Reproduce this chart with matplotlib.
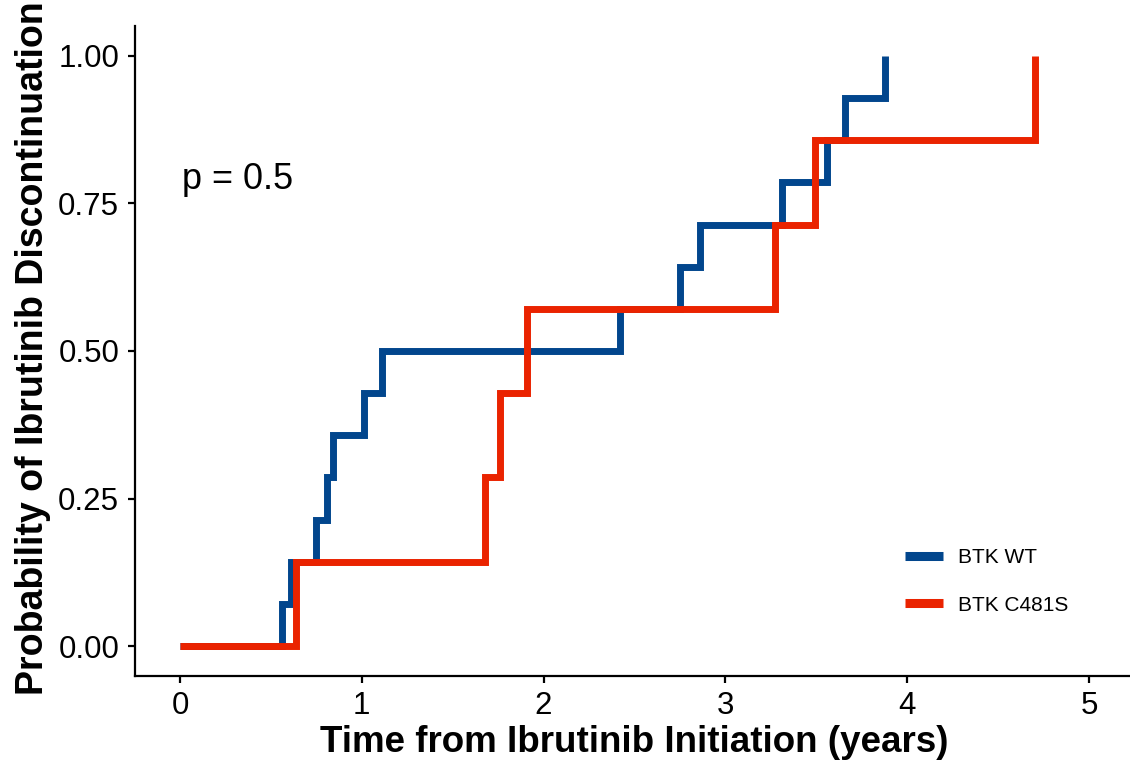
import matplotlib
matplotlib.use("Agg")
import matplotlib.pyplot as plt
from matplotlib.lines import Line2D

plt.rcParams['font.family'] = ['Liberation Sans', 'DejaVu Sans']

# BTK WT group (14 patients)
wt_time = [0.00, 0.56, 0.61, 0.75, 0.81, 0.84, 1.01, 1.11, 2.42, 2.75, 2.86, 3.31, 3.56, 3.66, 3.88]
wt_prob = [0.000, 0.071, 0.143, 0.214, 0.286, 0.357, 0.429, 0.500, 0.571, 0.643, 0.714, 0.786, 0.857, 0.929, 1.000]

# BTK C481S group (7 patients)
mut_time = [0.00, 0.64, 1.68, 1.76, 1.91, 3.27, 3.49, 4.70]
mut_prob = [0.000, 0.143, 0.286, 0.429, 0.571, 0.714, 0.857, 1.000]

labels = ["BTK WT", "BTK C481S"]
colors = ["#02468D", "#EA2300"]
pval_text = "p = 0.5"

fig = plt.figure(figsize=(11.3, 7.66), dpi=100)
ax = fig.add_axes([134.5 / 1130, (766 - 675.6) / 766, 1000 / 1130, 649.2 / 766])

ax.step(wt_time, wt_prob, where='post', color=colors[0], lw=5,
        solid_joinstyle='miter', solid_capstyle='butt')
ax.step(mut_time, mut_prob, where='post', color=colors[1], lw=5,
        solid_joinstyle='miter', solid_capstyle='butt')

ax.set_xlim(-0.25, 5.25)
ax.set_ylim(-0.05, 1.05)
ax.set_xticks([0, 1, 2, 3, 4, 5])
ax.set_yticks([0, 0.25, 0.5, 0.75, 1.0])
ax.set_yticklabels(["0.00", "0.25", "0.50", "0.75", "1.00"])

for s in ['top', 'right']:
    ax.spines[s].set_visible(False)
for s in ['left', 'bottom']:
    ax.spines[s].set_linewidth(1.6)
ax.spines['bottom'].set_clip_on(False)

ax.tick_params(axis='both', width=1.6, length=5, labelsize=22.5, colors='black')
ax.tick_params(axis='y', pad=6)
ax.tick_params(axis='x', pad=6)

ax.set_xlabel("Time from Ibrutinib Initiation (years)", fontsize=26.5,
              fontweight='bold', labelpad=3)
ax.set_ylabel("Probability of Ibrutinib Discontinuation", fontsize=27,
              fontweight='bold')
ax.yaxis.set_label_coords(-0.083, 0.505)

ax.text(0.01, 0.79, pval_text, fontsize=26, ha='left', va='center')

handles = [Line2D([0], [0], color=c, lw=6.5, solid_capstyle='butt') for c in colors]
ax.legend(handles, labels, loc='center left', bbox_to_anchor=(0.7705, 0.145),
          frameon=False, fontsize=15, handlelength=1.8, labelspacing=1.35,
          handletextpad=0.75, borderpad=0, borderaxespad=0)

fig.savefig("out.png", dpi=100)
